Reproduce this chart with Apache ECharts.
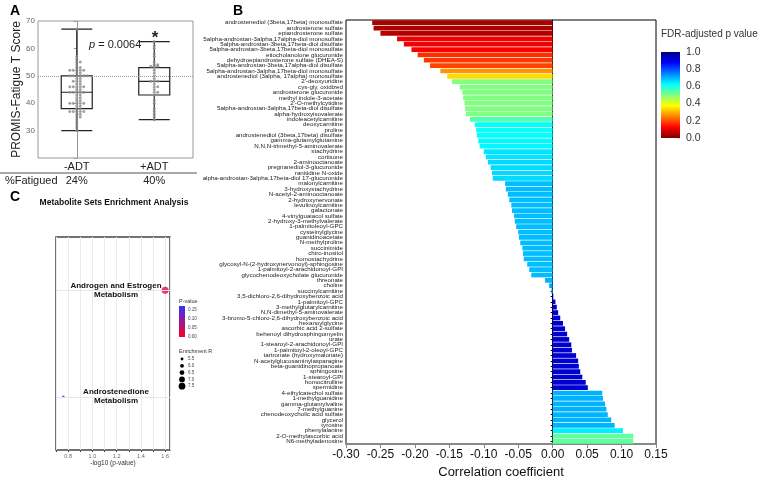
<!DOCTYPE html>
<html>
<head>
<meta charset="utf-8">
<script src="https://cdn.jsdelivr.net/npm/echarts@6/dist/echarts.min.js"></script>
<style>
  html, body { margin: 0; padding: 0; background: #fff; }
  #main { width: 758px; height: 484px; }
</style>
</head>
<body>
<div id="main"></div>
<script>
// ---- panel A : PROMIS fatigue by ADT status ----
var groups = ['-ADT', '+ADT'];
// [min, Q1, median, Q3, max]
var boxStats = [[30, 38, 44, 50, 67], [34, 43, 48, 53, 62.5]];
var dotsNoADT = [67, 57, 56, 55, 55, 54, 53, 53, 52, 52, 52, 52, 52, 51, 51, 50, 50, 50, 50, 50, 50,
  49, 49, 48, 48, 48, 47, 47, 46, 46, 46, 46, 46, 45, 45, 44, 44, 44, 44, 44, 43, 43, 42, 42,
  41, 41, 40, 40, 40, 40, 40, 39, 39, 38, 38, 37, 37, 37, 37, 37, 36, 36, 35, 35, 34, 33, 32, 31, 30];
var dotsADT = [62.5, 61, 60, 58, 57, 55, 54, 54, 53.5, 53.5, 53.5, 53, 52, 51, 50, 49, 48, 48, 48,
  47, 46, 46, 45, 44, 44, 43, 41, 40, 38, 37, 36, 35, 34];
var fatiguedPct = ['24%', '40%'];
var refLine = 50;

// ---- panel B : correlation with fatigue ----
var metabolites = [
  'androstenediol (3beta,17beta) monosulfate', 'androsterone sulfate', 'epiandrosterone sulfate',
  '5alpha-androstan-3alpha,17alpha-diol monosulfate', '5alpha-androstan-3beta,17beta-diol disulfate',
  '5alpha-androstan-3beta,17beta-diol monosulfate', 'etiocholanolone glucuronide',
  'dehydroepiandrosterone sulfate (DHEA-S)', '5alpha-androstan-3beta,17alpha-diol disulfate',
  '5alpha-androstan-3alpha,17beta-diol monosulfate', 'androstenediol (3alpha, 17alpha) monosulfate',
  "2'-deoxyuridine", 'cys-gly, oxidized', 'androsterone glucuronide', 'methyl indole-3-acetate',
  "2'-O-methylcytidine", '5alpha-androstan-3alpha,17beta-diol disulfate', 'alpha-hydroxyisovalerate',
  'indoleacetylcarnitine', 'deoxycarnitine', 'proline', 'androstenediol (3beta,17beta) disulfate',
  'gamma-glutamylglutamine', 'N,N,N-trimethyl-5-aminovalerate', 'stachydrine', 'cortisone',
  '2-aminooctanoate', 'pregnanediol-3-glucuronide', 'ranitidine N-oxide',
  'alpha-androstan-3alpha,17beta-diol 17-glucuronide', 'malonylcarnitine', '3-hydroxystachydrine',
  'N-acetyl-2-aminooctanoate', '2-hydroxynervonate', 'levulinoylcarnitine', 'galactonate',
  '4-vinylguaiacol sulfate', '2-hydroxy-3-methylvalerate', '1-palmitoleoyl-GPC', 'cysteinylglycine',
  'guanidinoacetate', 'N-methylproline', 'succinimide', 'chiro-inositol', 'homostachydrine',
  'glycosyl-N-(2-hydroxynervonoyl)-sphingosine', '1-palmitoyl-2-arachidonoyl-GPI',
  'glycochenodeoxycholate glucuronide', 'threonate', 'choline', 'succinylcarnitine',
  '3,5-dichloro-2,6-dihydroxybenzoic acid', '1-palmitoyl-GPC', '3-methylglutarylcarnitine',
  'N,N-dimethyl-5-aminovalerate', '3-bromo-5-chloro-2,6-dihydroxybenzoic acid', 'hexanoylglycine',
  'ascorbic acid 2-sulfate', 'behenoyl dihydrosphingomyelin', 'urate', '1-stearoyl-2-arachidonoyl-GPI',
  '1-palmitoyl-2-oleoyl-GPC', 'tartronate (hydroxymalonate)', 'N-acetylglucosaminylasparagine',
  'beta-guanidinopropanoate', 'sphingosine', '1-stearoyl-GPI', 'homocitrulline', 'spermidine',
  '4-ethylcatechol sulfate', '1-methylguanidine', 'gamma-glutamylvaline', '7-methylguanine',
  'chenodeoxycholic acid sulfate', 'glycerol', 'tyrosine', 'phenylalanine',
  '2-O-methylascorbic acid', 'N6-methyladenosine'
];
var corrCoef = [
  -0.262, -0.260, -0.250, -0.226, -0.216, -0.205, -0.196, -0.187, -0.178, -0.163, -0.153,
  -0.146, -0.135, -0.131, -0.130, -0.128, -0.127, -0.126, -0.120, -0.113, -0.111, -0.110,
  -0.108, -0.106, -0.100, -0.097, -0.094, -0.090, -0.088, -0.087, -0.069, -0.068, -0.065,
  -0.063, -0.060, -0.059, -0.056, -0.055, -0.053, -0.050, -0.049, -0.047, -0.044, -0.043,
  -0.042, -0.037, -0.034, -0.031, -0.011, -0.005, -0.002,
  0.001, 0.004, 0.006, 0.008, 0.011, 0.015, 0.018, 0.021, 0.024, 0.027, 0.028, 0.034, 0.037,
  0.038, 0.040, 0.043, 0.048, 0.051,
  0.072, 0.073, 0.076, 0.078, 0.080, 0.085, 0.090, 0.102, 0.117, 0.117
];
var fdrP = [
  0.04, 0.04, 0.05, 0.11, 0.11, 0.12, 0.17, 0.18, 0.19, 0.27, 0.34,
  0.50, 0.50, 0.50, 0.50, 0.50, 0.50, 0.50, 0.55, 0.62, 0.62, 0.62,
  0.63, 0.63, 0.65, 0.65, 0.66, 0.66, 0.66, 0.66, 0.69, 0.69, 0.69,
  0.69, 0.69, 0.69, 0.69, 0.69, 0.69, 0.69, 0.69, 0.69, 0.69, 0.69,
  0.69, 0.69, 0.69, 0.69, 0.70, 0.72, 0.72,
  0.92, 0.92, 0.92, 0.92, 0.92, 0.92, 0.92, 0.92, 0.92, 0.92, 0.92, 0.92, 0.92,
  0.92, 0.92, 0.92, 0.92, 0.92,
  0.70, 0.70, 0.70, 0.70, 0.70, 0.70, 0.70, 0.64, 0.53, 0.53
];
var jet = ['#800000', '#ff0000', '#ff8000', '#ffff00', '#80ff80', '#00ffff', '#0080ff', '#0000ff', '#000080'];

// ---- panel C : enrichment ----
var pathways = ['Androstenedione Metabolism', 'Androgen and Estrogen Metabolism'];
var negLogP = [0.76, 1.6];
var pathwayP = [0.174, 0.025];
var enrichRatio = [5.3, 7.7];
var pLegend = [0.15, 0.10, 0.05, 0.00];
var erLegend = [5.5, 6.0, 6.5, 7.0, 7.5];

function erSize(v) { return 2.5 + (v - 5.3) * 1.9; }

// simple beeswarm: repeated values get pushed sideways
function swarm(vals, center) {
  var seen = {};
  return vals.map(function (v) {
    var k = seen[v] || 0;
    seen[v] = k + 1;
    var off = k === 0 ? 0 : (k % 2 ? 1 : -1) * Math.ceil(k / 2) * 0.045;
    return [center + off, v];
  });
}

var chart = echarts.init(document.getElementById('main'));

var gA = { left: 38, top: 21, width: 155, height: 137 };
var gC = { left: 56, top: 237, width: 114, height: 213 };

var graphics = [
  { type: 'text', x: 10, y: 11, style: { text: 'A', font: 'bold 14px "Liberation Sans"', fill: '#000', verticalAlign: 'middle' } },
  { type: 'text', x: 233, y: 11, style: { text: 'B', font: 'bold 14px "Liberation Sans"', fill: '#000', verticalAlign: 'middle' } },
  { type: 'text', x: 10, y: 197, style: { text: 'C', font: 'bold 14px "Liberation Sans"', fill: '#000', verticalAlign: 'middle' } },
  { type: 'text', x: 89, y: 45, style: {
      text: '{i|p} = 0.0064', font: '11px "Liberation Sans"', fill: '#222', verticalAlign: 'middle',
      rich: { i: { fontStyle: 'italic', fontSize: 11, fontFamily: 'Liberation Sans' } } } },
  { type: 'text', x: 155, y: 38, style: { text: '*', font: 'bold 17px "Liberation Sans"', fill: '#222', align: 'center', verticalAlign: 'middle' } },
  { type: 'line', shape: { x1: 0, y1: 173, x2: 197, y2: 173 }, style: { stroke: '#555', lineWidth: 1 } },
  { type: 'text', x: 5, y: 181, style: { text: '%Fatigued', font: '11px "Liberation Sans"', fill: '#222', verticalAlign: 'middle' } },
  { type: 'text', x: 661, y: 34, style: { text: 'FDR-adjusted p value', font: '10px "Liberation Sans"', fill: '#333', verticalAlign: 'middle' } },
  { type: 'text', x: 114, y: 203, style: { text: 'Metabolite Sets Enrichment Analysis', font: 'bold 8.5px "Liberation Sans"', fill: '#111', align: 'center', verticalAlign: 'middle' } },
  { type: 'text', x: 179, y: 301, style: { text: 'P-value', font: '5.5px "Liberation Sans"', fill: '#333', verticalAlign: 'middle' } },
  { type: 'rect', shape: { x: 179, y: 306, width: 6, height: 31 }, style: {
      fill: new echarts.graphic.LinearGradient(0, 0, 0, 1, [{ offset: 0, color: '#3333ff' }, { offset: 1, color: '#ff0022' }]) } },
  { type: 'text', x: 179, y: 351, style: { text: 'Enrichment R', font: '5.5px "Liberation Sans"', fill: '#333', verticalAlign: 'middle' } }
];
groups.forEach(function (g, i) {
  graphics.push({ type: 'text', x: gA.left + (i + 0.5) * gA.width / groups.length, y: 181,
    style: { text: fatiguedPct[i], font: '11px "Liberation Sans"', fill: '#222', align: 'center', verticalAlign: 'middle' } });
});
pLegend.forEach(function (v) {
  graphics.push({ type: 'text', x: 188, y: 337 - v / 0.05 * 9,
    style: { text: v.toFixed(2), font: '4.5px "Liberation Sans"', fill: '#444', verticalAlign: 'middle' } });
});
erLegend.forEach(function (v, i) {
  var y = 359 + i * 6.8;
  graphics.push({ type: 'circle', shape: { cx: 182, cy: y, r: erSize(v) / 2 }, style: { fill: '#000' } });
  graphics.push({ type: 'text', x: 188, y: y, style: { text: v.toFixed(1), font: '4.5px "Liberation Sans"', fill: '#444', verticalAlign: 'middle' } });
});

var option = {
  animation: false,
  textStyle: { fontFamily: 'Liberation Sans' },
  grid: [
    { left: gA.left, top: gA.top, width: gA.width, height: gA.height, show: true, borderColor: '#999', borderWidth: 1 },
    { left: 346, top: 20, width: 310, height: 432, show: true, borderColor: '#000', borderWidth: 1 },
    { left: gC.left, top: gC.top, width: gC.width, height: gC.height, show: true, borderColor: '#444', borderWidth: 1.5 },
    { left: 661, top: 52, width: 19, height: 86 }
  ],
  visualMap: [
    { show: false, seriesIndex: 2, dimension: 2, min: 0, max: 1, inRange: { color: jet } },
    { show: false, seriesIndex: 3, dimension: 2, min: 0, max: 0.174, inRange: { color: ['#ff0022', '#3333ff'] } }
  ],
  xAxis: [
    { gridIndex: 0, type: 'category', data: groups,
      axisLine: { show: false }, axisTick: { show: false },
      axisLabel: { fontSize: 11, color: '#222', margin: 3 } },
    { gridIndex: 0, type: 'value', min: -0.5, max: 1.5, show: false },
    { gridIndex: 1, type: 'value', min: -0.3, max: 0.15, interval: 0.05,
      axisLine: { show: true, onZero: false, lineStyle: { color: '#888', width: 2 } },
      axisTick: { show: true, length: 4, lineStyle: { color: '#888' } },
      splitLine: { show: false },
      axisLabel: { fontSize: 12, color: '#111', margin: 5, formatter: function (v) { return v.toFixed(2); } },
      name: 'Correlation coefficient', nameLocation: 'middle', nameGap: 20,
      nameTextStyle: { fontSize: 13, color: '#111' } },
    { gridIndex: 2, type: 'value', min: 0.7, max: 1.64, interval: 0.1,
      axisLine: { show: false },
      axisTick: { show: true, length: 2, lineStyle: { color: '#444' } },
      splitLine: { show: true, lineStyle: { color: '#ebebeb', width: 1 } },
      axisLabel: { fontSize: 5.5, color: '#666', margin: 3,
        formatter: function (v) { return Math.round(v * 10) % 2 === 0 ? v.toFixed(1) : ''; } },
      name: '-log10 (p-value)', nameLocation: 'middle', nameGap: 10,
      nameTextStyle: { fontSize: 6.5, color: '#333' } },
    { gridIndex: 3, type: 'category', data: ['FDR'], show: false }
  ],
  yAxis: [
    { gridIndex: 0, type: 'value', min: 20, max: 70, interval: 10,
      axisLine: { show: true, lineStyle: { color: '#999' } },
      axisTick: { show: true, length: 3, lineStyle: { color: '#999' } },
      splitLine: { show: false },
      axisLabel: { fontSize: 8, color: '#666', margin: 3, formatter: function (v) { return v === 20 ? '' : v; } },
      name: 'PROMIS-Fatigue T Score', nameLocation: 'middle', nameGap: 13,
      nameTextStyle: { fontSize: 12, color: '#222' } },
    { gridIndex: 1, type: 'category', data: metabolites, inverse: true,
      axisLine: { show: true, lineStyle: { color: '#000' } },
      axisTick: { show: true, length: 2, alignWithLabel: true, interval: 0, lineStyle: { color: '#000' } },
      axisLabel: { interval: 0, fontSize: 6.2, color: '#222', margin: 3 } },
    { gridIndex: 2, type: 'category', data: pathways,
      axisLine: { show: false }, axisTick: { show: false }, splitLine: { show: false },
      axisLabel: { inside: true, align: 'center', margin: 60, fontSize: 8, fontWeight: 'bold',
        color: '#111', lineHeight: 9,
        formatter: function (v) { return v.replace(' Metabolism', '\nMetabolism'); } } },
    { gridIndex: 3, type: 'value', min: 0, max: 1, interval: 0.2, position: 'right',
      axisLine: { show: false },
      axisTick: { show: true, inside: true, length: 3, lineStyle: { color: '#ddd' } },
      splitLine: { show: false },
      axisLabel: { fontSize: 10.5, color: '#333', margin: 6, formatter: function (v) { return v.toFixed(1); } } }
  ],
  series: [
    { type: 'boxplot', xAxisIndex: 0, yAxisIndex: 0, data: boxStats, boxWidth: [31, 31],
      itemStyle: { color: 'rgba(255,255,255,0)', borderColor: '#222', borderWidth: 1.2 } },
    { type: 'scatter', xAxisIndex: 1, yAxisIndex: 0, symbolSize: 3,
      data: swarm(dotsNoADT, 0).concat(swarm(dotsADT, 1)),
      itemStyle: { color: '#8c8c8c' },
      markLine: { silent: true, symbol: ['none', 'none'], label: { show: false },
        lineStyle: { type: 'dotted', color: '#999', width: 1 }, data: [{ yAxis: refLine }] } },
    { type: 'bar', xAxisIndex: 2, yAxisIndex: 1, barCategoryGap: '12%',
      encode: { x: 0, y: 1 },
      data: metabolites.map(function (m, i) { return [corrCoef[i], m, fdrP[i]]; }) },
    { type: 'scatter', xAxisIndex: 3, yAxisIndex: 2,
      encode: { x: 0, y: 1 },
      data: pathways.map(function (p, i) { return [negLogP[i], p, pathwayP[i], enrichRatio[i]]; }),
      symbolSize: function (d) { return erSize(d[3]); },
      markLine: { silent: true, symbol: ['none', 'none'], label: { show: false },
        lineStyle: { type: 'solid', color: '#e6e6e6', width: 1 },
        data: pathways.map(function (p) { return { yAxis: p }; }) } },
    { type: 'bar', xAxisIndex: 4, yAxisIndex: 3, barWidth: '100%', silent: true, data: [1],
      itemStyle: { color: new echarts.graphic.LinearGradient(0, 0, 0, 1,
        jet.slice().reverse().map(function (c, i, a) { return { offset: i / (a.length - 1), color: c }; })) } }
  ],
  graphic: graphics
};

chart.setOption(option);
</script>
</body>
</html>
